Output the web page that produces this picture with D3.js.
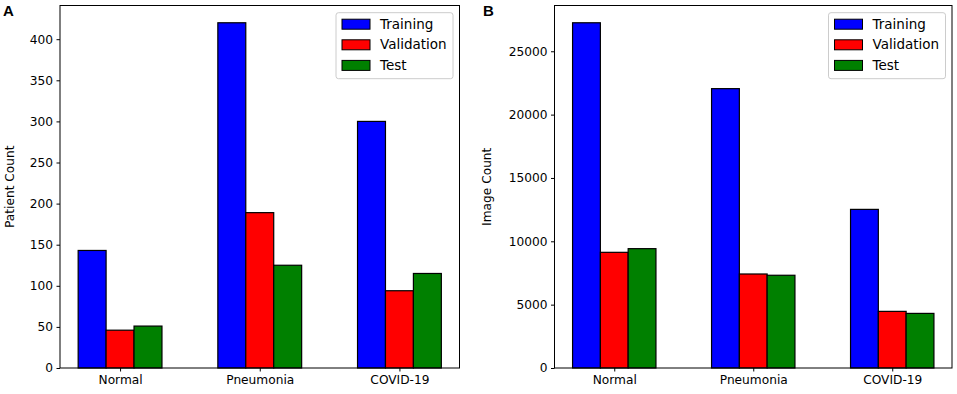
<!DOCTYPE html>
<html>
<head>
<meta charset="utf-8">
<script src="https://cdn.jsdelivr.net/npm/d3@7"></script>
<style>
	body { margin: 0; background: #fff; }
	svg { display: block; font-family: "DejaVu Sans", sans-serif; }
</style>
</head>
<body>
<div id="chart"></div>
<script>
const categories = ["Normal", "Pneumonia", "COVID-19"];
const splits = ["Training", "Validation", "Test"];
const splitColors = ["#0000ff", "#ff0000", "#008000"];

// panel A: patients per split
const patientTraining = [143, 420, 300];
const patientValidation = [46, 189, 94];
const patientTest = [51, 125, 115];
const patientTicks = [0, 50, 100, 150, 200, 250, 300, 350, 400];

// panel B: images per split
const imageTraining = [27250, 22050, 12520];
const imageValidation = [9130, 7420, 4470];
const imageTest = [9420, 7320, 4310];
const imageTicks = [0, 5000, 10000, 15000, 20000, 25000];

const svgWidth = 957;
const svgHeight = 394;
const tickFont = "12.2px";
const legendFont = "13.5px";

const svg = d3.select("#chart")
	.append("svg")
	.attr("width", svgWidth)
	.attr("height", svgHeight);

const drawPanel = (opts) => {
	const { left, right, top, bottom, series, ticks, yLabel, letter, letterX, yLabelX } = opts;
	const g = svg.append("g");

	const maxVal = d3.max(series.flat());
	const y = d3.scaleLinear().domain([0, maxVal * 1.05]).range([bottom, top]);

	// bars sit at i-0.2, i, i+0.2 with width 0.2, plus 5% margins
	const x = d3.scaleLinear().domain([-0.43, 2.43]).range([left, right]);
	const barW = 0.2;

	series.forEach((vals, s) => {
		g.append("g")
			.selectAll("rect")
			.data(vals)
			.join("rect")
			.attr("x", (d, i) => x(i + (s - 1) * barW - barW / 2))
			.attr("y", (d) => y(d))
			.attr("width", x(barW) - x(0))
			.attr("height", (d) => y(0) - y(d))
			.attr("fill", splitColors[s])
			.attr("stroke", "#000")
			.attr("stroke-width", 1.2);
	});

	// axes
	const yAxis = d3.axisLeft(y).tickValues(ticks).tickSize(3.5).tickPadding(3.5).tickFormat(d3.format("d"));
	const yg = g.append("g").attr("transform", `translate(${left},0)`).call(yAxis);
	const xAxis = d3.axisBottom(x).tickValues([0, 1, 2]).tickSize(3.5).tickPadding(3.5)
		.tickFormat((d) => categories[d]);
	const xg = g.append("g").attr("transform", `translate(0,${bottom})`).call(xAxis);
	[yg, xg].forEach((a) => {
		a.select(".domain").remove();
		a.selectAll("text").attr("font-size", tickFont).attr("fill", "#000").attr("font-family", "DejaVu Sans");
		a.selectAll("line").attr("stroke", "#000");
	});

	g.append("rect")
		.attr("x", left)
		.attr("y", top)
		.attr("width", right - left)
		.attr("height", bottom - top)
		.attr("fill", "none")
		.attr("stroke", "#000")
		.attr("stroke-width", 1);

	g.append("text")
		.attr("transform", `translate(${yLabelX},${(top + bottom) / 2}) rotate(-90)`)
		.attr("text-anchor", "middle")
		.attr("dominant-baseline", "central")
		.attr("font-size", tickFont)
		.text(yLabel);

	g.append("text")
		.attr("x", letterX)
		.attr("y", 16)
		.attr("font-family", "Liberation Sans, Arial, sans-serif")
		.attr("font-weight", "bold")
		.attr("font-size", "15px")
		.text(letter);

	// legend
	const legW = 117, legH = 66;
	const lx = right - 6.5 - legW, ly = 12.7;
	const leg = g.append("g").attr("transform", `translate(${lx},${ly})`);
	leg.append("rect")
		.attr("width", legW)
		.attr("height", legH)
		.attr("rx", 2.5)
		.attr("fill", "#fff")
		.attr("fill-opacity", 0.8)
		.attr("stroke", "#cccccc");
	splits.forEach((name, i) => {
		leg.append("rect")
			.attr("x", 6)
			.attr("y", 6.5 + i * 20.6)
			.attr("width", 28)
			.attr("height", 10)
			.attr("fill", splitColors[i])
			.attr("stroke", "#000");
		leg.append("text")
			.attr("x", 44)
			.attr("y", 11 + i * 20.6)
			.attr("dominant-baseline", "central")
			.attr("font-size", legendFont)
			.text(name);
	});
};

drawPanel({
	left: 60, right: 459.5, top: 5.5, bottom: 368,
	series: [patientTraining, patientValidation, patientTest],
	ticks: patientTicks,
	yLabel: "Patient Count",
	letter: "A",
	letterX: 3,
	yLabelX: 10,
});

drawPanel({
	left: 554.5, right: 952, top: 5.5, bottom: 368,
	series: [imageTraining, imageValidation, imageTest],
	ticks: imageTicks,
	yLabel: "Image Count",
	letter: "B",
	letterX: 483,
	yLabelX: 487,
});
</script>
</body>
</html>
